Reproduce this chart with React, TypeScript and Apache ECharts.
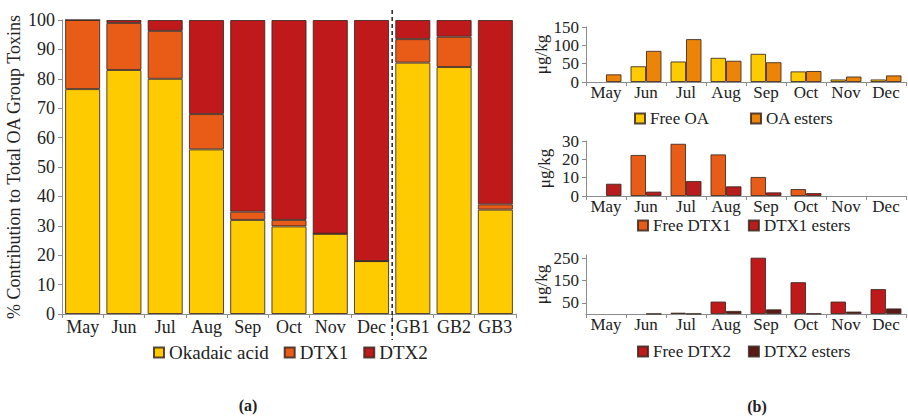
import React, { useEffect, useRef } from 'react';
import * as echarts from 'echarts';

// Sampling months and sites
const months = ['May', 'Jun', 'Jul', 'Aug', 'Sep', 'Oct', 'Nov', 'Dec'];
const sites = ['May', 'Jun', 'Jul', 'Aug', 'Sep', 'Oct', 'Nov', 'Dec', 'GB1', 'GB2', 'GB3'];

// (a) % contribution of each toxin to total OA group toxins
const okadaicPct = [76.5, 83, 80, 56, 32, 29.8, 27.3, 18, 85.5, 84, 35.5];
const dtx1Pct = [23.5, 16, 16.3, 12, 2.8, 2.2, 0, 0, 8, 10.3, 1.8];
const dtx2Pct = [0, 1, 3.7, 32, 65.2, 68, 72.7, 82, 6.5, 5.7, 62.7];

// (b) concentrations, µg/kg
const freeOA = [0, 43, 56, 66, 77, 29, 7, 7];
const oaEsters = [21, 85, 117, 58, 54, 30, 15, 18];
const freeDTX1 = [0, 22.4, 28.5, 22.7, 10.4, 3.8, 0, 0];
const dtx1Esters = [6.7, 2.4, 8.2, 5.3, 2, 1.6, 0, 0];
const freeDTX2 = [0, 0, 6, 56, 253, 143, 56, 112];
const dtx2Esters = [0, 1, 1.5, 14, 21, 2, 11, 25];

const FONT = '"Liberation Serif", "DejaVu Serif", serif';
const TEXT = '#222';
const AXIS = '#8c8c8c';

const C_OA = '#FECA00';
const C_DTX1 = '#E95C18';
const C_DTX2 = '#C0191C';
const C_OA_EST = '#EC8407';
const C_DTX1_EST = '#B81C1C';
const C_DTX2_EST = '#5A1A18';

const border = { borderColor: 'rgba(60,40,30,0.85)', borderWidth: 1 };

const axisLine = { show: true, lineStyle: { color: AXIS, width: 1 } };
const axisTick = { show: true, length: 4, lineStyle: { color: AXIS, width: 1 } };

function catAxis(gridIndex: number, data: string[], fontSize: number, margin: number) {
  return {
    gridIndex,
    type: 'category',
    data,
    axisLine,
    axisTick: { ...axisTick, length: 4 },
    axisLabel: { interval: 0, color: TEXT, fontSize, fontFamily: FONT, margin },
    splitLine: { show: false },
  };
}

function valAxis(gridIndex: number, extra: any, name: string, nameGap: number, fontSize: number) {
  return {
    gridIndex,
    type: 'value',
    min: 0,
    axisLine,
    axisTick,
    splitLine: { show: false },
    axisLabel: { color: TEXT, fontSize, fontFamily: FONT, margin: 7 },
    name,
    nameLocation: 'middle',
    nameGap,
    nameTextStyle: { color: TEXT, fontSize, fontFamily: FONT },
    ...extra,
  };
}

function legend(names: string[], left: number, top: number, itemGap: number, fontSize: number) {
  const textStyle = { color: TEXT, fontSize, fontFamily: FONT, fontWeight: 'normal' };
  return {
    data: names.map((name) => ({ name, textStyle })),
    left,
    top,
    padding: 0,
    itemGap,
    itemWidth: 10,
    itemHeight: 10,
    icon: 'rect',
    textStyle,
  };
}

function stackBar(name: string, data: number[], color: string) {
  return {
    name,
    type: 'bar',
    xAxisIndex: 0,
    yAxisIndex: 0,
    stack: 'pct',
    barCategoryGap: '15%',
    data,
    itemStyle: { color, ...border },
  };
}

// zero values are drawn without an outline so they leave no trace on the axis
function pairBar(name: string, data: number[], color: string, idx: number) {
  return {
    name,
    type: 'bar',
    xAxisIndex: idx,
    yAxisIndex: idx,
    barWidth: 15.5,
    barGap: '0%',
    data: data.map((v) => (v === 0 ? { value: 0, itemStyle: { borderWidth: 0 } } : v)),
    itemStyle: { color, ...border },
  };
}

const option: any = {
  animation: false,
  backgroundColor: '#fff',
  textStyle: { fontFamily: FONT, color: TEXT },
  grid: [
    { left: 62, top: 20, width: 454, height: 294 },
    { left: 586, top: 27, width: 320, height: 55 },
    { left: 586, top: 141, width: 320, height: 55 },
    { left: 586, top: 255, width: 320, height: 59 },
  ],
  xAxis: [
    catAxis(0, sites, 18, 4),
    catAxis(1, months, 17, 2),
    catAxis(2, months, 17, 2),
    catAxis(3, months, 17, 2),
  ],
  yAxis: [
    valAxis(0, { max: 100, interval: 10 }, '% Contribution to Total OA Group Toxins', 39, 18),
    valAxis(1, { max: 150, interval: 50 }, 'μg/kg', 33, 17),
    valAxis(2, { max: 30, interval: 10 }, 'μg/kg', 33, 17),
    valAxis(
      3,
      {
        max: 265,
        axisLabel: { color: TEXT, fontSize: 17, fontFamily: FONT, margin: 7, customValues: [50, 150, 250] },
        axisTick: { ...axisTick, customValues: [50, 150, 250] },
      },
      'μg/kg',
      33,
      17
    ),
  ],
  legend: [
    legend(['Okadaic acid', 'DTX1', 'DTX2'], 153, 343, 15, 19),
    legend(['Free OA', 'OA esters'], 634, 110, 41, 17),
    legend(['Free DTX1', 'DTX1 esters'], 637, 217, 17, 17),
    legend(['Free DTX2', 'DTX2 esters'], 637, 343, 17, 17),
  ],
  series: [
    stackBar('Okadaic acid', okadaicPct, C_OA),
    stackBar('DTX1', dtx1Pct, C_DTX1),
    stackBar('DTX2', dtx2Pct, C_DTX2),
    pairBar('Free OA', freeOA, C_OA, 1),
    pairBar('OA esters', oaEsters, C_OA_EST, 1),
    pairBar('Free DTX1', freeDTX1, C_DTX1, 2),
    pairBar('DTX1 esters', dtx1Esters, C_DTX1_EST, 2),
    pairBar('Free DTX2', freeDTX2, C_DTX2, 3),
    pairBar('DTX2 esters', dtx2Esters, C_DTX2_EST, 3),
  ],
};

export default function App() {
  const ref = useRef<HTMLDivElement>(null);

  useEffect(() => {
    if (!ref.current) return;
    const chart = echarts.init(ref.current, null, { renderer: 'svg' });
    chart.setOption(option);

    // Dashed separator between monthly samples and the GB sites
    const xDec = chart.convertToPixel({ xAxisIndex: 0 }, 'Dec') as number;
    const xGB1 = chart.convertToPixel({ xAxisIndex: 0 }, 'GB1') as number;
    const sepX = (xDec + xGB1) / 2;

    chart.setOption({
      graphic: [
        {
          type: 'line',
          shape: { x1: sepX, y1: 10, x2: sepX, y2: 340 },
          style: { stroke: '#222', lineWidth: 1.5, lineDash: [4, 3] },
          z: 10,
        },
        {
          type: 'text',
          x: 248,
          y: 405,
          style: { text: '(a)', fill: TEXT, font: `bold 16px ${FONT}`, align: 'center', verticalAlign: 'middle' },
        },
        {
          type: 'text',
          x: 757,
          y: 406,
          style: { text: '(b)', fill: TEXT, font: `bold 16px ${FONT}`, align: 'center', verticalAlign: 'middle' },
        },
      ],
    });

    return () => chart.dispose();
  }, []);

  return (
    <div
      ref={ref}
      style={{ position: 'fixed', left: 0, top: 0, width: 908, height: 417 }}
    />
  );
}
